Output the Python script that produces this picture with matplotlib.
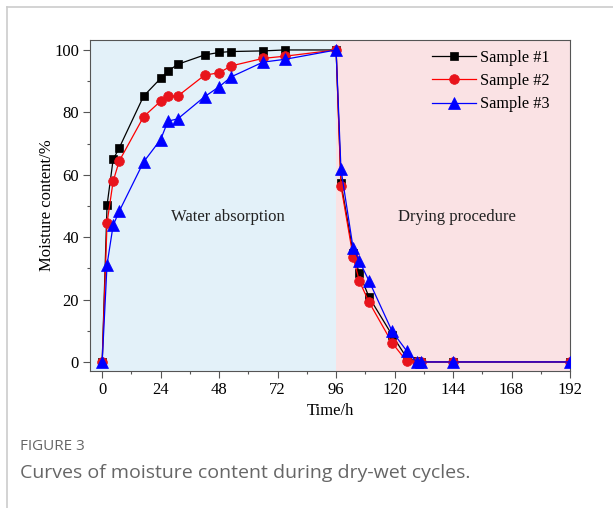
import matplotlib
matplotlib.use("Agg")
import matplotlib.pyplot as plt
from matplotlib.lines import Line2D
from matplotlib.ticker import MultipleLocator

# Time (h) and moisture content (%) for the three samples
hours_wet = [0, 2, 4.5, 7, 17, 24, 27, 31, 42, 48, 53, 66, 75, 96]
hours_dry = [98, 103, 105.5, 109.5, 119, 125, 129, 131, 144, 192]
hours = hours_wet + hours_dry

sample1 = [0, 50.2, 64.9, 68.6, 85.2, 90.9, 93.2, 95.4, 98.4, 99.2, 99.5, 99.7, 100, 100,
           57.4, 34.9, 28.5, 20.8, 8.6, 1.3, 0.2, 0, 0, 0]
sample2 = [0, 44.6, 57.9, 64.4, 78.6, 83.6, 85.2, 85.2, 91.9, 92.7, 94.9, 97.3, 98.0, 100,
           56.4, 33.6, 26.0, 19.2, 6.1, 0.2, 0, 0, 0, 0]
sample3 = [0, 31.2, 43.8, 48.3, 64.1, 71.3, 77.2, 77.9, 85.0, 88.2, 91.4, 96.1, 97.0, 100,
           61.7, 36.4, 32.4, 26.0, 9.8, 3.5, 0, 0, 0, 0]

labels = ["Sample #1", "Sample #2", "Sample #3"]
x_ticks = [0, 24, 48, 72, 96, 120, 144, 168, 192]
y_ticks = [0, 20, 40, 60, 80, 100]

serif = ["Liberation Serif", "DejaVu Serif"]

fig = plt.figure(figsize=(6.13, 5.08), dpi=100)
ax = fig.add_axes([0.1468, 0.2703, 0.7831, 0.651])

# coloured phases
ax.axvspan(-5, 96, color="#e3f1f9", zorder=0, lw=0)
ax.axvspan(96, 192, color="#fae2e4", zorder=0, lw=0)

ax.plot(hours, sample1, color="black", lw=0.9, marker="s", ms=6,
        mec="black", mew=0.5, label=labels[0], zorder=3)
ax.plot(hours, sample2, color="#ff0000", lw=0.9, marker="o", ms=7,
        mec="#e8141c", mfc="#e8141c", mew=0.5, label=labels[1], zorder=4)
ax.plot(hours, sample3, color="#0000ff", lw=0.9, marker="^", ms=8,
        mec="#0000ff", mew=0.5, label=labels[2], zorder=5)

ax.text(51.5, 46.5, "Water absorption", fontsize=12, family=serif,
        ha="center", va="center", color="#222222")
ax.text(145.5, 46.5, "Drying procedure", fontsize=12, family=serif,
        ha="center", va="center", color="#222222")

ax.set_xlim(-5, 192)
ax.set_ylim(-2.8, 103.2)
ax.set_xticks(x_ticks)
ax.set_yticks(y_ticks)
ax.xaxis.set_minor_locator(MultipleLocator(12))
ax.yaxis.set_minor_locator(MultipleLocator(10))
ax.tick_params(which="major", direction="out", length=5, width=0.8,
               color="#555555", labelsize=12, pad=3)
ax.tick_params(which="minor", direction="out", length=2.5, width=0.8, color="#555555")
for lab in ax.get_xticklabels() + ax.get_yticklabels():
    lab.set_family(serif)
for s in ax.spines.values():
    s.set_color("#555555")
    s.set_linewidth(0.8)

ax.set_xlabel("Time/h", fontsize=12, family=serif, labelpad=3.5)
ax.set_ylabel("Moisture content/%", fontsize=12, family=serif, labelpad=-0.5)

leg = ax.legend(loc="upper right", frameon=False, prop={"family": serif, "size": 11.7},
                handlelength=2.7, handletextpad=0.28, labelspacing=0.45,
                borderaxespad=0.2, bbox_to_anchor=(0.978, 1.0))

# card border and caption
fig.add_artist(Line2D([7 / 613, 7 / 613], [0, 1 - 7 / 508], color="#cccccc", lw=1.2))
fig.add_artist(Line2D([7 / 613, 1], [1 - 7 / 508, 1 - 7 / 508], color="#cccccc", lw=1.2))
fig.text(20 / 613, 1 - 446 / 508, "FIGURE 3", fontsize=11, family="Open Sans",
         color="#666666", va="center", ha="left")
fig.text(20 / 613, 1 - 473 / 508, "Curves of moisture content during dry-wet cycles.",
         fontsize=14, family="Open Sans", color="#666666", va="center", ha="left")

fig.savefig("out.png", dpi=100)
